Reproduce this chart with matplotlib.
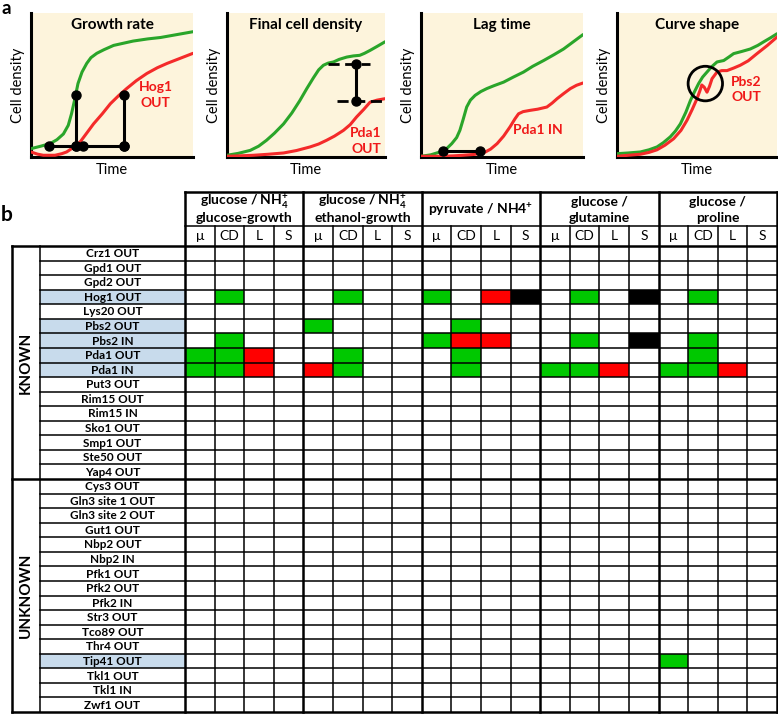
import matplotlib
matplotlib.use("Agg")
import matplotlib.pyplot as plt
from matplotlib.patches import Rectangle, Ellipse

plt.rcParams['font.family'] = ['Lato', 'DejaVu Sans']
plt.rcParams['mathtext.fontset'] = 'custom'
plt.rcParams['mathtext.rm'] = 'Lato'
plt.rcParams['mathtext.bf'] = 'Lato:bold'

# ---------------- data: panel a (curve points, % of axes) -------------
growth_wt = [(0, 5.8), (6, 7.5), (11.8, 9.3), (16, 12), (20, 16), (23, 22), (25, 30), (27, 40),
             (29, 51), (31.5, 59), (34.4, 65), (37, 69), (40.6, 72), (45, 74.5), (51, 77.5),
             (57, 79), (63, 80.5), (72, 82), (80, 83), (90, 85), (100, 87)]
growth_mut = [(0, 3.5), (4, 2), (7.6, 1.2), (14.8, 1.2), (19, 2.3), (22, 3.5), (26, 6.5),
              (30.3, 10.4), (34, 16), (38.6, 23), (44, 30), (49, 37), (54, 42.5), (59, 47.5),
              (65, 53), (71.5, 58), (78, 62), (84, 65), (92, 68.5), (100, 72)]
growth_hbar = [(11.3, 7.4), (27.8, 7.4), (32.3, 7.4), (57.5, 7.4)]
growth_vbars = [(27.8, 7.4, 43.3), (57.5, 7.4, 43.3)]

final_wt = [(0, 1.2), (7, 2.5), (14.7, 4.6), (20, 7.5), (25, 11.6), (30, 16.5), (35.8, 23),
            (41, 30.5), (46, 39), (50.5, 47.5), (54.7, 55), (58, 60.5), (61, 63.7), (64, 65.2),
            (67.4, 66), (71, 67.8), (75.8, 69.4), (80, 70.2), (84, 70.6), (87, 72), (90.5, 74),
            (95, 76.8), (100, 80)]
final_mut = [(0, 0.5), (8, 0.8), (16.8, 1.2), (26, 1.9), (35.8, 2.8), (44, 4.5), (52.6, 7),
             (58, 9), (63, 11.6), (68, 14.5), (73.7, 18.5), (78, 22.5), (82, 27.8), (86.5, 33),
             (90.5, 38), (95, 39.5), (100, 40.5)]
final_top = [(64, 64.4), (90.5, 64.4)]
final_bottom = [(69.5, 38.9), (98.9, 38.9)]
final_vbar = (81.7, 38.9, 64.4)

lag_wt = [(0, 0.5), (6, 1.5), (11.8, 3.5), (16, 6), (19, 9.3), (22, 13.5), (24, 18.5),
          (26, 26), (28.2, 34.7), (30.5, 39.5), (33.4, 42.8), (37, 45.5), (40.6, 47.5),
          (45, 49.5), (51, 52), (57, 55.5), (63.3, 59), (69, 63), (75.7, 67), (82, 71),
          (88, 75), (94, 80), (100, 85)]
lag_mut = [(0, 0.5), (11.8, 0.5), (20, 0.8), (26, 1.2), (33, 1.8), (38.6, 2.8), (43, 5.5),
           (47, 9.3), (51, 14.5), (55, 21), (58, 26.5), (60.2, 30), (63, 31.5), (67.4, 32.4),
           (72, 33.2), (77.7, 34.7), (81, 37.5), (84, 40.5), (88, 44), (92.2, 47.5),
           (96, 49.8), (100, 51.4)]
lag_bar = [(13.8, 3.9), (36.5, 3.9)]

shape_wt = [(0, 2.3), (7, 2.8), (14.6, 3.5), (20, 5), (25, 7), (29, 10), (33.3, 14),
            (36.5, 18), (39.6, 23), (43, 31), (45.8, 39), (48.5, 45.5), (51, 51), (53.5, 55.5),
            (56.25, 59), (59, 62.5), (62.5, 66), (66.7, 67), (70, 69.5), (72.9, 71.8),
            (78, 73.3), (83.3, 75), (88, 77.5), (91.7, 80), (96, 82.8), (100, 85.6)]
shape_mut = [(0, 0.5), (7, 1.2), (14.6, 1.9), (20, 3.2), (25, 5), (30, 8.2), (35.4, 12.7),
             (40, 18.5), (43.75, 25.5), (47, 33), (50, 40.5), (51.8, 46), (53, 50),
             (54.5, 48.5), (56.25, 45), (57.8, 49), (59.4, 54.4), (62.5, 59), (65.5, 60),
             (68.75, 60), (73, 61.8), (77, 63.7), (82, 66.8), (87.5, 71.8), (94, 77.5),
             (100, 83.3)]
shape_circle = (55.2, 51)

panel_titles = ["Growth rate", "Final cell density", "Lag time", "Curve shape"]
panel_labels = ["Hog1\nOUT", "Pda1\nOUT", "Pda1 IN", "Pbs2\nOUT"]
panel_label_pos = [(77, 43), (88, 11), (72, 18.5), (81, 47)]

# ---------------- data: panel b ----------------
known_rows = ["Crz1 OUT", "Gpd1 OUT", "Gpd2 OUT", "Hog1 OUT", "Lys20 OUT", "Pbs2 OUT",
              "Pbs2 IN", "Pda1 OUT", "Pda1 IN", "Put3 OUT", "Rim15 OUT", "Rim15 IN",
              "Sko1 OUT", "Smp1 OUT", "Ste50 OUT", "Yap4 OUT"]
unknown_rows = ["Cys3 OUT", "Gln3 site 1 OUT", "Gln3 site 2 OUT", "Gut1 OUT", "Nbp2 OUT",
                "Nbp2 IN", "Pfk1 OUT", "Pfk2 OUT", "Pfk2 IN", "Str3 OUT", "Tco89 OUT",
                "Thr4 OUT", "Tip41 OUT", "Tkl1 OUT", "Tkl1 IN", "Zwf1 OUT"]
highlighted = ["Hog1 OUT", "Pbs2 OUT", "Pbs2 IN", "Pda1 OUT", "Pda1 IN", "Tip41 OUT"]
conditions = [("glucose / NH$_\\mathbf{4}^\\mathbf{+}$", "glucose-growth"),
              ("glucose / NH$_\\mathbf{4}^\\mathbf{+}$", "ethanol-growth"),
              ("pyruvate / NH4$^\\mathbf{+}$", None),
              ("glucose /", "glutamine"),
              ("glucose /", "proline")]
metrics = ["μ", "CD", "L", "S"]
# (row, condition index, metric, effect colour)
effects = [
    ("Hog1 OUT", 0, "CD", "green"), ("Hog1 OUT", 1, "CD", "green"),
    ("Hog1 OUT", 2, "μ", "green"), ("Hog1 OUT", 2, "L", "red"), ("Hog1 OUT", 2, "S", "black"),
    ("Hog1 OUT", 3, "CD", "green"), ("Hog1 OUT", 3, "S", "black"), ("Hog1 OUT", 4, "CD", "green"),
    ("Pbs2 OUT", 1, "μ", "green"), ("Pbs2 OUT", 2, "CD", "green"),
    ("Pbs2 IN", 0, "CD", "green"), ("Pbs2 IN", 2, "μ", "green"), ("Pbs2 IN", 2, "CD", "red"),
    ("Pbs2 IN", 2, "L", "red"), ("Pbs2 IN", 3, "CD", "green"), ("Pbs2 IN", 3, "S", "black"),
    ("Pbs2 IN", 4, "CD", "green"),
    ("Pda1 OUT", 0, "μ", "green"), ("Pda1 OUT", 0, "CD", "green"), ("Pda1 OUT", 0, "L", "red"),
    ("Pda1 OUT", 1, "CD", "green"), ("Pda1 OUT", 2, "CD", "green"), ("Pda1 OUT", 4, "CD", "green"),
    ("Pda1 IN", 0, "μ", "green"), ("Pda1 IN", 0, "CD", "green"), ("Pda1 IN", 0, "L", "red"),
    ("Pda1 IN", 1, "μ", "red"), ("Pda1 IN", 1, "CD", "green"), ("Pda1 IN", 2, "CD", "green"),
    ("Pda1 IN", 3, "μ", "green"), ("Pda1 IN", 3, "CD", "green"), ("Pda1 IN", 3, "L", "red"),
    ("Pda1 IN", 4, "μ", "green"), ("Pda1 IN", 4, "CD", "green"), ("Pda1 IN", 4, "L", "red"),
    ("Tip41 OUT", 4, "μ", "green"),
]

# ---------------- styles ----------------
W, H = 778, 714
CREAM = "#fdf4dc"
GREEN_LINE = "#2aa52a"
RED_LINE = "#f42a2a"
TXT_RED = "#f01818"
CELL_COL = {"green": "#00c800", "red": "#ff0000", "black": "#000000"}
BLUE = "#c8dbec"

fig = plt.figure(figsize=(W / 100, H / 100), dpi=100)


def fbox(x0, y0, x1, y1):
    return [x0 / W, 1 - y1 / H, (x1 - x0) / W, (y1 - y0) / H]


# ---------------- panel a ----------------
curves = [(growth_wt, growth_mut), (final_wt, final_mut), (lag_wt, lag_mut), (shape_wt, shape_mut)]
lefts = [(31, 193), (227, 385), (421, 583), (617, 777)]
for i, ((x0, x1), (wt, mut)) in enumerate(zip(lefts, curves)):
    ax = fig.add_axes(fbox(x0, 13, x1, 157))
    ax.set_facecolor(CREAM)
    ax.set_xlim(0, 100)
    ax.set_ylim(0, 100)
    for s in ["top", "right"]:
        ax.spines[s].set_visible(False)
    for s in ["left", "bottom"]:
        ax.spines[s].set_linewidth(2.2)
        ax.spines[s].set_color("black")
    ax.set_xticks([])
    ax.set_yticks([])
    ax.set_ylabel("Cell density", fontsize=10.5, labelpad=4)
    ax.set_xlabel("Time", fontsize=10.5, labelpad=4)
    ax.plot([p[0] for p in wt], [p[1] for p in wt], color=GREEN_LINE, lw=2.2, zorder=3,
            solid_capstyle="round", solid_joinstyle="round")
    ax.plot([p[0] for p in mut], [p[1] for p in mut], color=RED_LINE, lw=2.2, zorder=3,
            solid_capstyle="round", solid_joinstyle="round")
    ax.text(50, 92, panel_titles[i], ha="center", va="center", fontsize=11,
            fontweight="bold")
    lx, ly = panel_label_pos[i]
    ax.text(lx, ly, panel_labels[i], ha="center", va="center", fontsize=10,
            fontweight="bold", color=TXT_RED, linespacing=1.35)

    if i == 0:
        ax.plot([p[0] for p in growth_hbar], [p[1] for p in growth_hbar], color="black",
                lw=2.2, marker="o", ms=6.5, zorder=5)
        for xv, ya, yb in growth_vbars:
            ax.plot([xv, xv], [ya, yb], color="black", lw=2.2, marker="o", ms=6.5, zorder=5)
    elif i == 1:
        for seg in (final_top, final_bottom):
            ax.plot([p[0] for p in seg], [p[1] for p in seg], color="black", lw=2,
                    ls=(0, (4, 2)), zorder=5)
        xv, ya, yb = final_vbar
        ax.plot([xv, xv], [ya, yb], color="black", lw=2.2, marker="o", ms=6.5, zorder=6)
    elif i == 2:
        ax.plot([p[0] for p in lag_bar], [p[1] for p in lag_bar], color="black", lw=2.2,
                marker="o", ms=6.5, zorder=5, clip_on=False)
    else:
        ax.add_patch(Ellipse(shape_circle, 21.5, 24, fill=False, ec="black", lw=2, zorder=5))

fig.text(1 / W, 1 - 9 / H, "a", fontsize=13.5, fontweight="bold", ha="left", va="center")
fig.text(1 / W, 1 - 215 / H, "b", fontsize=15, fontweight="bold", ha="left", va="center")

# ---------------- panel b ----------------
rows = known_rows + unknown_rows
nrows = len(rows)
ncols = len(conditions) * len(metrics)
colw = (777 - 185) / ncols
rowh = (712 - 246) / nrows
LW = (185 - 40) / colw
GW = (40 - 12) / colw
HS = (246 - 226) / rowh
HG = (226 - 192) / rowh

tb = fig.add_axes(fbox(12, 192, 777, 712))
tb.set_xlim(-LW - GW, ncols)
tb.set_ylim(nrows, -(HS + HG))
tb.axis("off")

# highlighted row labels
for r, name in enumerate(rows):
    if name in highlighted:
        tb.add_patch(Rectangle((-LW, r), LW, 1, facecolor=BLUE, edgecolor="none", zorder=1))
    tb.text(-LW / 2, r + 0.53, name, ha="center", va="center", fontsize=8.5,
            fontweight="bold", zorder=4)

# effect cells
for name, ci, m, eff in effects:
    r = rows.index(name)
    c = ci * len(metrics) + metrics.index(m)
    tb.add_patch(Rectangle((c, r), 1, 1, facecolor=CELL_COL[eff], edgecolor="none", zorder=1))

# headers
for ci, (l1, l2) in enumerate(conditions):
    xc = ci * len(metrics) + len(metrics) / 2
    ym = -HS - HG / 2
    if l2 is None:
        tb.text(xc, ym, l1, ha="center", va="center", fontsize=10, fontweight="bold")
    else:
        tb.text(xc, ym - HG * 0.22, l1, ha="center", va="center", fontsize=10,
                fontweight="bold")
        tb.text(xc, ym + HG * 0.25, l2, ha="center", va="center", fontsize=10,
                fontweight="bold")
    for mi, m in enumerate(metrics):
        tb.text(ci * len(metrics) + mi + 0.5, -HS / 2, m, ha="center", va="center",
                fontsize=10)

# group labels
tb.text(-LW - GW / 2, len(known_rows) / 2, "KNOWN", rotation=90, ha="center", va="center",
        fontsize=11, fontweight="bold")
tb.text(-LW - GW / 2, len(known_rows) + len(unknown_rows) / 2, "UNKNOWN", rotation=90,
        ha="center", va="center", fontsize=11, fontweight="bold")

thin, thick = 1.1, 1.8
kw = dict(color="black", zorder=5, clip_on=False)
# horizontal lines
for r in range(1, nrows):
    if r == len(known_rows):
        tb.plot([-LW - GW, ncols], [r, r], lw=thick, **kw)
    else:
        tb.plot([-LW, ncols], [r, r], lw=thin, **kw)
tb.plot([-LW - GW, ncols], [0, 0], lw=thick, **kw)
tb.plot([-LW - GW, ncols], [nrows, nrows], lw=thick, **kw)
tb.plot([0, ncols], [-HS, -HS], lw=thin, **kw)
tb.plot([0, ncols], [-HS - HG, -HS - HG], lw=thick, **kw)
# vertical lines
tb.plot([-LW - GW, -LW - GW], [0, nrows], lw=thick, **kw)
tb.plot([-LW, -LW], [0, nrows], lw=thin, **kw)
for c in range(ncols + 1):
    if c % len(metrics) == 0:
        tb.plot([c, c], [-HS - HG, nrows], lw=thick, **kw)
    else:
        tb.plot([c, c], [-HS, nrows], lw=thin, **kw)

fig.savefig("out.png", dpi=100)
